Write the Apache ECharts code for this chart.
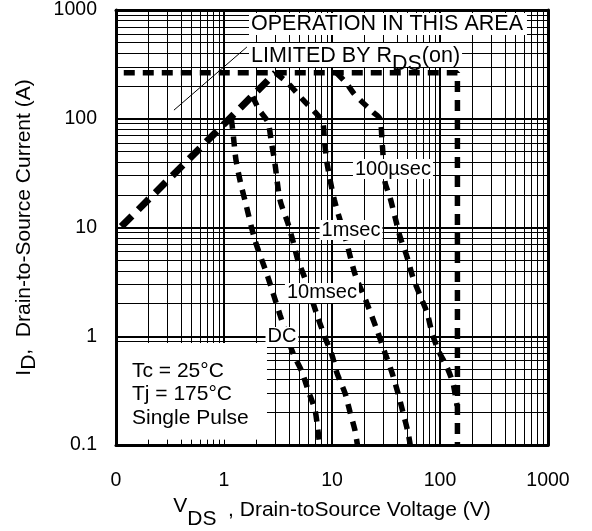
<!DOCTYPE html>
<html><head><meta charset="utf-8">
<script src="https://cdn.jsdelivr.net/npm/echarts@6/dist/echarts.min.js"></script>
<style>html,body{margin:0;padding:0;background:#fff}#c{width:592px;height:531px}</style>
</head><body><div id="c"></div>
<script>
// ---- tick labels ----
const xTicks = [0.1, 1, 10, 100, 1000];
const xTickLabels = ['0', '1', '10', '100', '1000'];
const yTicks = [0.1, 1, 10, 100, 1000];
const yTickLabels = ['0.1', '1', '10', '100', '1000'];
// ---- grid line values ----
const minorGrid = [0.2, 0.3, 0.4, 0.5, 0.6, 0.7, 0.8, 0.9,
                   2, 3, 4, 5, 6, 7, 8, 9,
                   20, 30, 40, 50, 60, 70, 80, 90,
                   200, 300, 400, 500, 600, 700, 800, 900];
const majorGrid = [1, 10, 100];
const boxTicks = [0.2, 0.3, 0.4, 0.5, 0.6, 0.7, 0.8, 0.9, 1, 2];
// ---- limit lines (VDS [V], ID [A]) ----
const rdsLimit = [[0.112, 10.2], [3.0, 265]];
const currentVoltageLimit = [[0.118, 265], [145, 265], [145, 0.1]];
const leaderLine = [[0.344, 120], [1.63, 457]];
// ---- SOA curves ----
const dcCurve = [[1.17, 100], [1.22, 70], [1.29, 42], [1.42, 26], [1.56, 17.9], [1.93, 7.7], [2.55, 3.5],
  [3.3, 1.57], [4.35, 0.70], [5.27, 0.47], [6.0, 0.32], [6.96, 0.21], [7.4, 0.137], [7.7, 0.1]];
const ms10Curve = [[1.85, 160], [2.1, 122], [2.55, 93], [2.75, 60], [2.95, 40], [3.3, 17.9], [3.9, 11.0],
  [4.35, 7.5], [4.84, 5.0], [5.62, 3.4], [7.26, 1.57], [8.6, 0.98], [10, 0.67], [11.1, 0.46],
  [13.2, 0.30], [14.7, 0.20], [16.3, 0.137], [17.2, 0.1]];
const ms1Curve = [[3.0, 265], [3.9, 213], [5.4, 149], [6.96, 115], [8.2, 93], [8.5, 64], [9.0, 39],
  [10.5, 18], [13.5, 7.6], [16.5, 3.6], [20.5, 2.15], [26.1, 1.14], [31, 0.70], [36, 0.46],
  [40.8, 0.30], [45.4, 0.20], [50.6, 0.13], [53, 0.1]];
const us100Curve = [[11, 265], [13.7, 210], [16, 170], [19.4, 140], [24, 115], [27.8, 100], [29, 64],
  [30, 40], [31, 26], [34.4, 19], [38.3, 12.5], [42.7, 8.2], [49.4, 5.4], [56, 3.5], [65, 2.4],
  [76, 1.64], [84, 1.09], [96, 0.75], [116, 0.52], [132, 0.37], [140, 0.27], [144, 0.23]];
// ---- annotation anchors ----
const annoOperation = [1.704, 743];
const annoLimited = [1.704, 386];
const anno100us = [36.7, 34.5];
const anno1ms = [15.0, 9.48];
const anno10ms = [8.07, 2.5];
const annoDC = [3.44, 0.985];
const condBox = [[0.1, 0.1], [2.5, 0.867]];

const FONT = '"Liberation Sans", Arial, Helvetica, sans-serif';
function tickFmt(ticks, labels) {
  return function (v) {
    for (let i = 0; i < ticks.length; i++) {
      if (Math.abs(Math.log10(v) - Math.log10(ticks[i])) < 1e-6) return labels[i];
    }
    return '';
  };
}
const chart = echarts.init(document.getElementById('c'), null, {renderer: 'canvas'});
const dashCurve = {color: '#000', width: 5.5, type: [10, 8], cap: 'butt'};

const gridMarks = [];
minorGrid.forEach(v => { gridMarks.push({xAxis: v, lineStyle: {width: 1}}); gridMarks.push({yAxis: v, lineStyle: {width: 1}}); });
majorGrid.forEach(v => { gridMarks.push({xAxis: v, lineStyle: {width: 2}}); gridMarks.push({yAxis: v, lineStyle: {width: 2}}); });

const tickMarks = boxTicks.map(v => [{coord: [v, 0.1]}, {coord: [v, 0.112]}]);

const labelBase = {show: true, color: '#000', fontFamily: FONT, fontSize: 20, lineHeight: 20, backgroundColor: '#fff', opacity: 1};

const option = {
  animation: false,
  backgroundColor: '#fff',
  grid: {left: 116, right: 44, top: 10, bottom: 86, outerBoundsMode: 'none'},
  xAxis: [{
    type: 'log', logBase: 10, min: 0.1, max: 1000, z: 20,
    axisLine: {show: true, lineStyle: {color: '#000', width: 3}},
    axisTick: {show: false}, splitLine: {show: false}, minorTick: {show: false},
    axisLabel: {formatter: tickFmt(xTicks, xTickLabels), color: '#000', fontFamily: FONT, fontSize: 19.5, margin: 26},
    name: '{v|V}{s|DS}{r|  , Drain-toSource Voltage (V)}',
    nameLocation: 'middle', nameGap: 38,
    nameTextStyle: {
      color: '#000', fontFamily: FONT, fontSize: 21,
      rich: {
        v: {fontFamily: FONT, fontSize: 21, lineHeight: 22, verticalAlign: 'top', color: '#000'},
        s: {fontFamily: FONT, fontSize: 21, lineHeight: 22, verticalAlign: 'top', padding: [13, 0, 0, 0], color: '#000'},
        r: {fontFamily: FONT, fontSize: 21, lineHeight: 22, verticalAlign: 'top', padding: [4, 0, 0, 0], color: '#000'}
      }
    }
  }, {
    type: 'log', logBase: 10, min: 0.1, max: 1000, position: 'top', z: 20,
    axisLine: {show: true, onZero: false, lineStyle: {color: '#000', width: 3}},
    axisTick: {show: false}, axisLabel: {show: false}, splitLine: {show: false}
  }],
  yAxis: [{
    type: 'log', logBase: 10, min: 0.1, max: 1000, z: 20,
    axisLine: {show: true, lineStyle: {color: '#000', width: 3}},
    axisTick: {show: false}, splitLine: {show: false}, minorTick: {show: false},
    axisLabel: {formatter: tickFmt(yTicks, yTickLabels), color: '#000', fontFamily: FONT, fontSize: 19.5, margin: 19, padding: [6, 0, 0, 0]},
    name: '{v|I}{s|D}{r|,  Drain-to-Source Current (A)}',
    nameLocation: 'middle', nameGap: 80, nameRotate: 90,
    nameTextStyle: {
      color: '#000', fontFamily: FONT, fontSize: 21,
      rich: {
        v: {fontFamily: FONT, fontSize: 21, lineHeight: 22, verticalAlign: 'top', color: '#000'},
        s: {fontFamily: FONT, fontSize: 21, lineHeight: 22, verticalAlign: 'top', padding: [5, 0, 0, 0], color: '#000'},
        r: {fontFamily: FONT, fontSize: 21, lineHeight: 22, verticalAlign: 'top', color: '#000'}
      }
    }
  }, {
    type: 'log', logBase: 10, min: 0.1, max: 1000, position: 'right', z: 20,
    axisLine: {show: true, onZero: false, lineStyle: {color: '#000', width: 3}},
    axisTick: {show: false}, axisLabel: {show: false}, splitLine: {show: false}
  }],
  series: [
    { // grid lines
      type: 'line', z: 1, data: [[1, 1]], showSymbol: false, lineStyle: {opacity: 0}, silent: true,
      markLine: {z: 1, silent: true, symbol: 'none', label: {show: false},
        lineStyle: {color: '#000', type: 'solid', width: 1}, data: gridMarks}
    },
    {type: 'line', name: 'RDS(on) limit', z: 3, data: rdsLimit, showSymbol: false,
      lineStyle: {color: '#000', width: 7, type: [15, 9], cap: 'butt'}},
    {type: 'line', name: 'ID / VDS limit', z: 3, data: currentVoltageLimit, showSymbol: false,
      lineStyle: {color: '#000', width: 5.5, type: [11, 8], cap: 'butt'}},
    {type: 'line', name: 'leader', z: 3, data: leaderLine, showSymbol: false,
      lineStyle: {color: '#000', width: 1}},
    {type: 'line', name: 'DC', z: 3, data: dcCurve, showSymbol: false, smooth: 0.25, lineStyle: dashCurve},
    {type: 'line', name: '10msec', z: 3, data: ms10Curve, showSymbol: false, smooth: 0.25, lineStyle: dashCurve},
    {type: 'line', name: '1msec', z: 3, data: ms1Curve, showSymbol: false, smooth: 0.25, lineStyle: dashCurve},
    {type: 'line', name: '100usec', z: 3, data: us100Curve, showSymbol: false, smooth: 0.25, lineStyle: dashCurve},
    { // annotations
      type: 'scatter', z: 10, symbolSize: 0, silent: true, itemStyle: {opacity: 1},
      data: [
        {value: annoOperation, label: Object.assign({}, labelBase, {position: 'right', distance: 0, fontSize: 21.5, lineHeight: 22, padding: [0, 4, 0, 2], formatter: 'OPERATION IN THIS AREA'})},
        {value: annoLimited, label: Object.assign({}, labelBase, {position: 'right', distance: 0, padding: [2, 2, 0, 2],
          formatter: '{n|LIMITED BY R}{s|DS}{n|(on)}',
          rich: {
            n: {fontFamily: FONT, fontSize: 21.5, lineHeight: 22, verticalAlign: 'top', color: '#000'},
            s: {fontFamily: FONT, fontSize: 21.5, lineHeight: 20, verticalAlign: 'top', padding: [8, 0, 0, 0], color: '#000'}
          }})},
        {value: anno100us, label: Object.assign({}, labelBase, {position: 'inside', padding: [0, 2, 0, 2], formatter: '100\u00b5sec'})},
        {value: anno1ms, label: Object.assign({}, labelBase, {position: 'inside', padding: [0, 2, 0, 2], formatter: '1msec'})},
        {value: anno10ms, label: Object.assign({}, labelBase, {position: 'inside', padding: [0, 2, 0, 2], formatter: '10msec'})},
        {value: annoDC, label: Object.assign({}, labelBase, {position: 'inside', padding: [0, 2, 0, 2], formatter: 'DC'})}
      ],
      markArea: {z: 8, silent: true, itemStyle: {color: '#fff'},
        label: {show: true, position: 'insideTopLeft', distance: 0, padding: [16, 0, 0, 16], color: '#000',
          fontFamily: FONT, fontSize: 21, lineHeight: 23.5, formatter: 'Tc = 25\u00b0C\nTj = 175\u00b0C\nSingle Pulse'},
        data: [[{coord: condBox[0]}, {coord: condBox[1]}]]},
      markLine: {z: 9, silent: true, symbol: 'none', label: {show: false},
        lineStyle: {color: '#000', type: 'solid', width: 1}, data: tickMarks}
    }
  ]
};
chart.setOption(option);
</script>
</body></html>
